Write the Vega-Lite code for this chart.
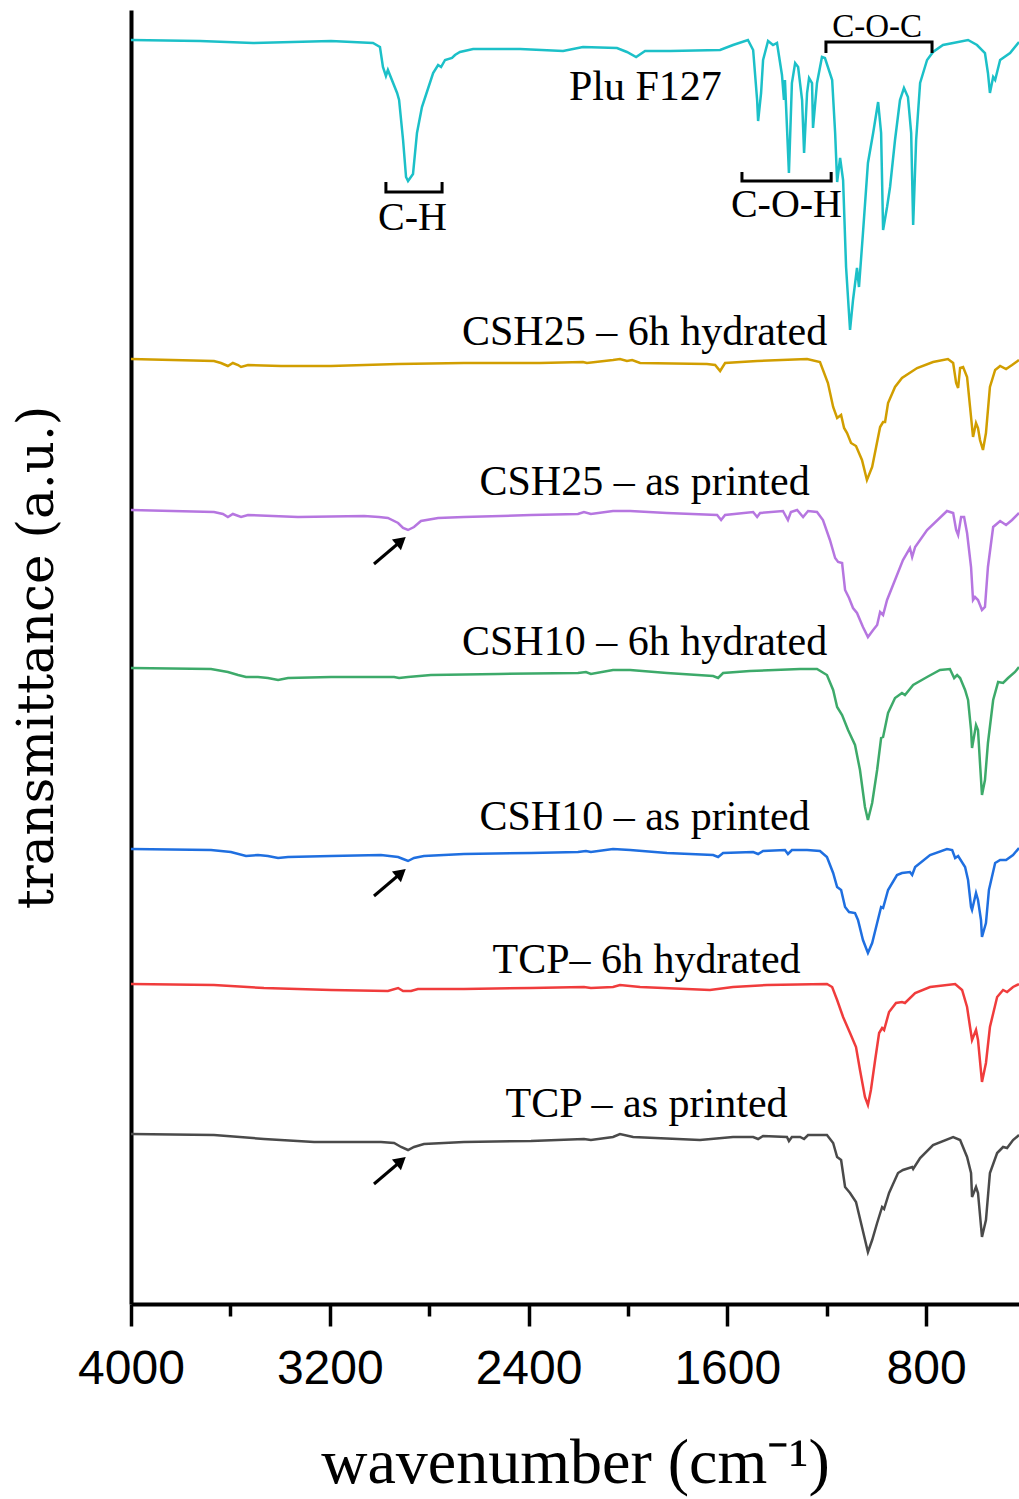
{
"$schema": "https://vega.github.io/schema/vega-lite/v6.json",
"width": 888, "height": 1294,
"autosize": {"type": "none"},
"padding": {"left": 131, "top": 10, "right": 0, "bottom": 195},
"config": {"view": {"stroke": null}, "background": "white"},
"datasets": {
"spectra": [
{"s":"Plu","wn":4000,"t":1264},{"s":"Plu","wn":3722,"t":1263},{"s":"Plu","wn":3509,"t":1261},{"s":"Plu","wn":3195,"t":1263},{"s":"Plu","wn":3026,"t":1261},{"s":"Plu","wn":2998,"t":1257},{"s":"Plu","wn":2986,"t":1237},{"s":"Plu","wn":2974,"t":1228},{"s":"Plu","wn":2966,"t":1234},{"s":"Plu","wn":2929,"t":1211},{"s":"Plu","wn":2921,"t":1204},{"s":"Plu","wn":2905,"t":1164},{"s":"Plu","wn":2893,"t":1127},{"s":"Plu","wn":2885,"t":1123},{"s":"Plu","wn":2865,"t":1130},{"s":"Plu","wn":2849,"t":1171},{"s":"Plu","wn":2829,"t":1197},{"s":"Plu","wn":2813,"t":1209},{"s":"Plu","wn":2784,"t":1231},{"s":"Plu","wn":2764,"t":1239},{"s":"Plu","wn":2752,"t":1237},{"s":"Plu","wn":2736,"t":1244},{"s":"Plu","wn":2708,"t":1246},{"s":"Plu","wn":2696,"t":1249},{"s":"Plu","wn":2676,"t":1252},{"s":"Plu","wn":2623,"t":1255},{"s":"Plu","wn":2434,"t":1255},{"s":"Plu","wn":2261,"t":1253},{"s":"Plu","wn":2181,"t":1257},{"s":"Plu","wn":2044,"t":1256},{"s":"Plu","wn":2004,"t":1252},{"s":"Plu","wn":1967,"t":1247},{"s":"Plu","wn":1931,"t":1253},{"s":"Plu","wn":1830,"t":1253},{"s":"Plu","wn":1629,"t":1254},{"s":"Plu","wn":1577,"t":1259},{"s":"Plu","wn":1517,"t":1264},{"s":"Plu","wn":1496,"t":1254},{"s":"Plu","wn":1480,"t":1204},{"s":"Plu","wn":1476,"t":1183},{"s":"Plu","wn":1464,"t":1211},{"s":"Plu","wn":1456,"t":1244},{"s":"Plu","wn":1436,"t":1263},{"s":"Plu","wn":1416,"t":1259},{"s":"Plu","wn":1400,"t":1261},{"s":"Plu","wn":1380,"t":1229},{"s":"Plu","wn":1372,"t":1204},{"s":"Plu","wn":1368,"t":1224},{"s":"Plu","wn":1352,"t":1131},{"s":"Plu","wn":1340,"t":1221},{"s":"Plu","wn":1327,"t":1241},{"s":"Plu","wn":1315,"t":1237},{"s":"Plu","wn":1299,"t":1204},{"s":"Plu","wn":1291,"t":1151},{"s":"Plu","wn":1279,"t":1211},{"s":"Plu","wn":1271,"t":1226},{"s":"Plu","wn":1259,"t":1221},{"s":"Plu","wn":1255,"t":1176},{"s":"Plu","wn":1239,"t":1221},{"s":"Plu","wn":1219,"t":1247},{"s":"Plu","wn":1207,"t":1246},{"s":"Plu","wn":1178,"t":1224},{"s":"Plu","wn":1166,"t":1171},{"s":"Plu","wn":1158,"t":1122},{"s":"Plu","wn":1146,"t":1146},{"s":"Plu","wn":1134,"t":1124},{"s":"Plu","wn":1122,"t":1037},{"s":"Plu","wn":1106,"t":974},{"s":"Plu","wn":1094,"t":1004},{"s":"Plu","wn":1078,"t":1036},{"s":"Plu","wn":1070,"t":1017},{"s":"Plu","wn":1054,"t":1071},{"s":"Plu","wn":1034,"t":1141},{"s":"Plu","wn":1013,"t":1171},{"s":"Plu","wn":993,"t":1202},{"s":"Plu","wn":981,"t":1171},{"s":"Plu","wn":973,"t":1074},{"s":"Plu","wn":957,"t":1097},{"s":"Plu","wn":945,"t":1117},{"s":"Plu","wn":925,"t":1164},{"s":"Plu","wn":905,"t":1204},{"s":"Plu","wn":889,"t":1216},{"s":"Plu","wn":873,"t":1207},{"s":"Plu","wn":860,"t":1171},{"s":"Plu","wn":852,"t":1079},{"s":"Plu","wn":840,"t":1164},{"s":"Plu","wn":824,"t":1221},{"s":"Plu","wn":796,"t":1244},{"s":"Plu","wn":772,"t":1252},{"s":"Plu","wn":732,"t":1259},{"s":"Plu","wn":691,"t":1261},{"s":"Plu","wn":631,"t":1264},{"s":"Plu","wn":595,"t":1259},{"s":"Plu","wn":563,"t":1251},{"s":"Plu","wn":551,"t":1231},{"s":"Plu","wn":543,"t":1211},{"s":"Plu","wn":530,"t":1227},{"s":"Plu","wn":522,"t":1224},{"s":"Plu","wn":502,"t":1244},{"s":"Plu","wn":462,"t":1251},{"s":"Plu","wn":426,"t":1262},

{"s":"C25h","wn":4000,"t":945},{"s":"C25h","wn":3666,"t":943},{"s":"C25h","wn":3638,"t":941},{"s":"C25h","wn":3610,"t":938},{"s":"C25h","wn":3590,"t":941},{"s":"C25h","wn":3569,"t":939},{"s":"C25h","wn":3557,"t":937},{"s":"C25h","wn":3529,"t":939},{"s":"C25h","wn":3396,"t":938},{"s":"C25h","wn":3195,"t":938},{"s":"C25h","wn":2925,"t":940},{"s":"C25h","wn":2660,"t":941},{"s":"C25h","wn":2354,"t":941},{"s":"C25h","wn":2181,"t":942},{"s":"C25h","wn":2165,"t":941},{"s":"C25h","wn":2060,"t":944},{"s":"C25h","wn":2032,"t":945},{"s":"C25h","wn":2004,"t":943},{"s":"C25h","wn":1983,"t":944},{"s":"C25h","wn":1951,"t":941},{"s":"C25h","wn":1682,"t":940},{"s":"C25h","wn":1649,"t":939},{"s":"C25h","wn":1629,"t":933},{"s":"C25h","wn":1609,"t":941},{"s":"C25h","wn":1480,"t":943},{"s":"C25h","wn":1279,"t":945},{"s":"C25h","wn":1227,"t":942},{"s":"C25h","wn":1195,"t":921},{"s":"C25h","wn":1174,"t":897},{"s":"C25h","wn":1158,"t":886},{"s":"C25h","wn":1142,"t":889},{"s":"C25h","wn":1130,"t":876},{"s":"C25h","wn":1118,"t":871},{"s":"C25h","wn":1102,"t":861},{"s":"C25h","wn":1082,"t":858},{"s":"C25h","wn":1058,"t":844},{"s":"C25h","wn":1038,"t":824},{"s":"C25h","wn":1017,"t":837},{"s":"C25h","wn":1001,"t":857},{"s":"C25h","wn":985,"t":877},{"s":"C25h","wn":973,"t":882},{"s":"C25h","wn":965,"t":882},{"s":"C25h","wn":953,"t":901},{"s":"C25h","wn":925,"t":917},{"s":"C25h","wn":897,"t":926},{"s":"C25h","wn":836,"t":936},{"s":"C25h","wn":772,"t":942},{"s":"C25h","wn":712,"t":945},{"s":"C25h","wn":691,"t":941},{"s":"C25h","wn":679,"t":921},{"s":"C25h","wn":671,"t":916},{"s":"C25h","wn":663,"t":936},{"s":"C25h","wn":651,"t":937},{"s":"C25h","wn":635,"t":927},{"s":"C25h","wn":623,"t":897},{"s":"C25h","wn":611,"t":867},{"s":"C25h","wn":599,"t":881},{"s":"C25h","wn":591,"t":876},{"s":"C25h","wn":583,"t":864},{"s":"C25h","wn":571,"t":854},{"s":"C25h","wn":559,"t":871},{"s":"C25h","wn":543,"t":917},{"s":"C25h","wn":522,"t":934},{"s":"C25h","wn":502,"t":938},{"s":"C25h","wn":478,"t":935},{"s":"C25h","wn":454,"t":939},{"s":"C25h","wn":426,"t":944},

{"s":"C25p","wn":4000,"t":794},{"s":"C25p","wn":3666,"t":792},{"s":"C25p","wn":3630,"t":790},{"s":"C25p","wn":3610,"t":787},{"s":"C25p","wn":3590,"t":790},{"s":"C25p","wn":3557,"t":787},{"s":"C25p","wn":3529,"t":789},{"s":"C25p","wn":3328,"t":787},{"s":"C25p","wn":3062,"t":788},{"s":"C25p","wn":3002,"t":787},{"s":"C25p","wn":2966,"t":786},{"s":"C25p","wn":2925,"t":781},{"s":"C25p","wn":2905,"t":776},{"s":"C25p","wn":2885,"t":774},{"s":"C25p","wn":2861,"t":777},{"s":"C25p","wn":2833,"t":783},{"s":"C25p","wn":2764,"t":786},{"s":"C25p","wn":2660,"t":787},{"s":"C25p","wn":2390,"t":789},{"s":"C25p","wn":2201,"t":790},{"s":"C25p","wn":2177,"t":792},{"s":"C25p","wn":2149,"t":790},{"s":"C25p","wn":2060,"t":793},{"s":"C25p","wn":1991,"t":793},{"s":"C25p","wn":1843,"t":791},{"s":"C25p","wn":1641,"t":789},{"s":"C25p","wn":1625,"t":784},{"s":"C25p","wn":1609,"t":789},{"s":"C25p","wn":1496,"t":792},{"s":"C25p","wn":1480,"t":787},{"s":"C25p","wn":1468,"t":791},{"s":"C25p","wn":1376,"t":793},{"s":"C25p","wn":1356,"t":784},{"s":"C25p","wn":1344,"t":792},{"s":"C25p","wn":1319,"t":794},{"s":"C25p","wn":1295,"t":787},{"s":"C25p","wn":1275,"t":793},{"s":"C25p","wn":1239,"t":792},{"s":"C25p","wn":1215,"t":784},{"s":"C25p","wn":1187,"t":764},{"s":"C25p","wn":1166,"t":746},{"s":"C25p","wn":1154,"t":742},{"s":"C25p","wn":1138,"t":741},{"s":"C25p","wn":1126,"t":714},{"s":"C25p","wn":1110,"t":706},{"s":"C25p","wn":1094,"t":696},{"s":"C25p","wn":1078,"t":691},{"s":"C25p","wn":1054,"t":677},{"s":"C25p","wn":1034,"t":667},{"s":"C25p","wn":1013,"t":674},{"s":"C25p","wn":997,"t":679},{"s":"C25p","wn":985,"t":692},{"s":"C25p","wn":973,"t":689},{"s":"C25p","wn":957,"t":704},{"s":"C25p","wn":925,"t":724},{"s":"C25p","wn":893,"t":744},{"s":"C25p","wn":865,"t":756},{"s":"C25p","wn":856,"t":747},{"s":"C25p","wn":844,"t":757},{"s":"C25p","wn":796,"t":774},{"s":"C25p","wn":716,"t":793},{"s":"C25p","wn":691,"t":791},{"s":"C25p","wn":679,"t":774},{"s":"C25p","wn":671,"t":769},{"s":"C25p","wn":659,"t":787},{"s":"C25p","wn":647,"t":787},{"s":"C25p","wn":635,"t":771},{"s":"C25p","wn":619,"t":737},{"s":"C25p","wn":611,"t":704},{"s":"C25p","wn":603,"t":707},{"s":"C25p","wn":591,"t":704},{"s":"C25p","wn":575,"t":694},{"s":"C25p","wn":563,"t":697},{"s":"C25p","wn":551,"t":737},{"s":"C25p","wn":530,"t":777},{"s":"C25p","wn":502,"t":783},{"s":"C25p","wn":478,"t":779},{"s":"C25p","wn":454,"t":784},{"s":"C25p","wn":426,"t":791},

{"s":"C10h","wn":4000,"t":636},{"s":"C10h","wn":3678,"t":635},{"s":"C10h","wn":3610,"t":632},{"s":"C10h","wn":3569,"t":629},{"s":"C10h","wn":3537,"t":627},{"s":"C10h","wn":3489,"t":627},{"s":"C10h","wn":3449,"t":626},{"s":"C10h","wn":3408,"t":624},{"s":"C10h","wn":3368,"t":626},{"s":"C10h","wn":3195,"t":627},{"s":"C10h","wn":2941,"t":627},{"s":"C10h","wn":2921,"t":626},{"s":"C10h","wn":2885,"t":627},{"s":"C10h","wn":2793,"t":629},{"s":"C10h","wn":2523,"t":630},{"s":"C10h","wn":2201,"t":631},{"s":"C10h","wn":2169,"t":632},{"s":"C10h","wn":2149,"t":630},{"s":"C10h","wn":2060,"t":634},{"s":"C10h","wn":1991,"t":634},{"s":"C10h","wn":1843,"t":631},{"s":"C10h","wn":1657,"t":628},{"s":"C10h","wn":1637,"t":626},{"s":"C10h","wn":1617,"t":631},{"s":"C10h","wn":1509,"t":633},{"s":"C10h","wn":1307,"t":635},{"s":"C10h","wn":1239,"t":635},{"s":"C10h","wn":1199,"t":629},{"s":"C10h","wn":1174,"t":614},{"s":"C10h","wn":1158,"t":597},{"s":"C10h","wn":1138,"t":589},{"s":"C10h","wn":1114,"t":574},{"s":"C10h","wn":1086,"t":559},{"s":"C10h","wn":1066,"t":534},{"s":"C10h","wn":1046,"t":497},{"s":"C10h","wn":1034,"t":484},{"s":"C10h","wn":1017,"t":501},{"s":"C10h","wn":997,"t":534},{"s":"C10h","wn":981,"t":566},{"s":"C10h","wn":973,"t":567},{"s":"C10h","wn":953,"t":591},{"s":"C10h","wn":925,"t":606},{"s":"C10h","wn":897,"t":611},{"s":"C10h","wn":885,"t":609},{"s":"C10h","wn":852,"t":619},{"s":"C10h","wn":796,"t":627},{"s":"C10h","wn":744,"t":634},{"s":"C10h","wn":704,"t":635},{"s":"C10h","wn":687,"t":626},{"s":"C10h","wn":675,"t":629},{"s":"C10h","wn":663,"t":626},{"s":"C10h","wn":643,"t":614},{"s":"C10h","wn":631,"t":604},{"s":"C10h","wn":619,"t":574},{"s":"C10h","wn":615,"t":556},{"s":"C10h","wn":599,"t":579},{"s":"C10h","wn":591,"t":574},{"s":"C10h","wn":583,"t":541},{"s":"C10h","wn":575,"t":509},{"s":"C10h","wn":563,"t":524},{"s":"C10h","wn":551,"t":561},{"s":"C10h","wn":530,"t":604},{"s":"C10h","wn":510,"t":622},{"s":"C10h","wn":490,"t":621},{"s":"C10h","wn":470,"t":626},{"s":"C10h","wn":442,"t":632},{"s":"C10h","wn":426,"t":637},

{"s":"C10p","wn":4000,"t":455},{"s":"C10p","wn":3678,"t":454},{"s":"C10p","wn":3598,"t":452},{"s":"C10p","wn":3537,"t":448},{"s":"C10p","wn":3489,"t":449},{"s":"C10p","wn":3449,"t":448},{"s":"C10p","wn":3408,"t":446},{"s":"C10p","wn":3368,"t":447},{"s":"C10p","wn":3195,"t":448},{"s":"C10p","wn":2994,"t":449},{"s":"C10p","wn":2925,"t":447},{"s":"C10p","wn":2905,"t":445},{"s":"C10p","wn":2885,"t":443},{"s":"C10p","wn":2861,"t":446},{"s":"C10p","wn":2821,"t":448},{"s":"C10p","wn":2660,"t":450},{"s":"C10p","wn":2390,"t":451},{"s":"C10p","wn":2201,"t":452},{"s":"C10p","wn":2169,"t":453},{"s":"C10p","wn":2149,"t":452},{"s":"C10p","wn":2060,"t":455},{"s":"C10p","wn":1991,"t":454},{"s":"C10p","wn":1843,"t":451},{"s":"C10p","wn":1657,"t":449},{"s":"C10p","wn":1637,"t":447},{"s":"C10p","wn":1617,"t":451},{"s":"C10p","wn":1496,"t":452},{"s":"C10p","wn":1476,"t":450},{"s":"C10p","wn":1456,"t":453},{"s":"C10p","wn":1368,"t":454},{"s":"C10p","wn":1356,"t":450},{"s":"C10p","wn":1340,"t":454},{"s":"C10p","wn":1279,"t":454},{"s":"C10p","wn":1227,"t":453},{"s":"C10p","wn":1199,"t":447},{"s":"C10p","wn":1174,"t":431},{"s":"C10p","wn":1158,"t":417},{"s":"C10p","wn":1142,"t":414},{"s":"C10p","wn":1126,"t":397},{"s":"C10p","wn":1110,"t":392},{"s":"C10p","wn":1086,"t":391},{"s":"C10p","wn":1074,"t":384},{"s":"C10p","wn":1054,"t":364},{"s":"C10p","wn":1034,"t":351},{"s":"C10p","wn":1017,"t":361},{"s":"C10p","wn":997,"t":381},{"s":"C10p","wn":981,"t":397},{"s":"C10p","wn":973,"t":396},{"s":"C10p","wn":953,"t":414},{"s":"C10p","wn":917,"t":429},{"s":"C10p","wn":897,"t":431},{"s":"C10p","wn":865,"t":432},{"s":"C10p","wn":856,"t":429},{"s":"C10p","wn":844,"t":437},{"s":"C10p","wn":784,"t":449},{"s":"C10p","wn":716,"t":455},{"s":"C10p","wn":695,"t":454},{"s":"C10p","wn":683,"t":446},{"s":"C10p","wn":671,"t":448},{"s":"C10p","wn":643,"t":437},{"s":"C10p","wn":631,"t":424},{"s":"C10p","wn":619,"t":397},{"s":"C10p","wn":615,"t":394},{"s":"C10p","wn":599,"t":411},{"s":"C10p","wn":591,"t":404},{"s":"C10p","wn":579,"t":384},{"s":"C10p","wn":575,"t":367},{"s":"C10p","wn":559,"t":381},{"s":"C10p","wn":547,"t":414},{"s":"C10p","wn":522,"t":441},{"s":"C10p","wn":502,"t":444},{"s":"C10p","wn":478,"t":444},{"s":"C10p","wn":450,"t":449},{"s":"C10p","wn":426,"t":456},

{"s":"TCPh","wn":4000,"t":320},{"s":"TCPh","wn":3666,"t":319},{"s":"TCPh","wn":3465,"t":316},{"s":"TCPh","wn":3195,"t":314},{"s":"TCPh","wn":2966,"t":313},{"s":"TCPh","wn":2925,"t":316},{"s":"TCPh","wn":2905,"t":313},{"s":"TCPh","wn":2873,"t":313},{"s":"TCPh","wn":2845,"t":315},{"s":"TCPh","wn":2660,"t":315},{"s":"TCPh","wn":2390,"t":316},{"s":"TCPh","wn":2177,"t":317},{"s":"TCPh","wn":2149,"t":316},{"s":"TCPh","wn":2060,"t":317},{"s":"TCPh","wn":2032,"t":319},{"s":"TCPh","wn":1951,"t":317},{"s":"TCPh","wn":1670,"t":314},{"s":"TCPh","wn":1577,"t":317},{"s":"TCPh","wn":1440,"t":319},{"s":"TCPh","wn":1199,"t":320},{"s":"TCPh","wn":1178,"t":317},{"s":"TCPh","wn":1158,"t":304},{"s":"TCPh","wn":1134,"t":287},{"s":"TCPh","wn":1106,"t":271},{"s":"TCPh","wn":1082,"t":257},{"s":"TCPh","wn":1066,"t":234},{"s":"TCPh","wn":1046,"t":207},{"s":"TCPh","wn":1034,"t":199},{"s":"TCPh","wn":1022,"t":214},{"s":"TCPh","wn":1005,"t":244},{"s":"TCPh","wn":989,"t":271},{"s":"TCPh","wn":977,"t":276},{"s":"TCPh","wn":969,"t":274},{"s":"TCPh","wn":949,"t":292},{"s":"TCPh","wn":921,"t":301},{"s":"TCPh","wn":897,"t":302},{"s":"TCPh","wn":885,"t":301},{"s":"TCPh","wn":844,"t":311},{"s":"TCPh","wn":784,"t":317},{"s":"TCPh","wn":683,"t":320},{"s":"TCPh","wn":655,"t":314},{"s":"TCPh","wn":635,"t":297},{"s":"TCPh","wn":623,"t":277},{"s":"TCPh","wn":615,"t":264},{"s":"TCPh","wn":599,"t":274},{"s":"TCPh","wn":591,"t":264},{"s":"TCPh","wn":575,"t":222},{"s":"TCPh","wn":559,"t":241},{"s":"TCPh","wn":543,"t":277},{"s":"TCPh","wn":514,"t":307},{"s":"TCPh","wn":490,"t":314},{"s":"TCPh","wn":474,"t":312},{"s":"TCPh","wn":450,"t":317},{"s":"TCPh","wn":426,"t":320},

{"s":"TCPp","wn":4000,"t":170},{"s":"TCPp","wn":3666,"t":169},{"s":"TCPp","wn":3465,"t":165},{"s":"TCPp","wn":3263,"t":162},{"s":"TCPp","wn":2994,"t":162},{"s":"TCPp","wn":2941,"t":161},{"s":"TCPp","wn":2913,"t":157},{"s":"TCPp","wn":2885,"t":154},{"s":"TCPp","wn":2861,"t":157},{"s":"TCPp","wn":2821,"t":160},{"s":"TCPp","wn":2660,"t":162},{"s":"TCPp","wn":2390,"t":163},{"s":"TCPp","wn":2177,"t":165},{"s":"TCPp","wn":2149,"t":164},{"s":"TCPp","wn":2060,"t":167},{"s":"TCPp","wn":2032,"t":170},{"s":"TCPp","wn":1979,"t":167},{"s":"TCPp","wn":1710,"t":164},{"s":"TCPp","wn":1577,"t":167},{"s":"TCPp","wn":1496,"t":167},{"s":"TCPp","wn":1476,"t":165},{"s":"TCPp","wn":1456,"t":168},{"s":"TCPp","wn":1360,"t":167},{"s":"TCPp","wn":1352,"t":163},{"s":"TCPp","wn":1340,"t":167},{"s":"TCPp","wn":1307,"t":167},{"s":"TCPp","wn":1291,"t":165},{"s":"TCPp","wn":1275,"t":169},{"s":"TCPp","wn":1199,"t":169},{"s":"TCPp","wn":1174,"t":161},{"s":"TCPp","wn":1158,"t":147},{"s":"TCPp","wn":1142,"t":144},{"s":"TCPp","wn":1126,"t":117},{"s":"TCPp","wn":1106,"t":111},{"s":"TCPp","wn":1082,"t":102},{"s":"TCPp","wn":1058,"t":77},{"s":"TCPp","wn":1034,"t":52},{"s":"TCPp","wn":1017,"t":64},{"s":"TCPp","wn":997,"t":81},{"s":"TCPp","wn":977,"t":97},{"s":"TCPp","wn":969,"t":95},{"s":"TCPp","wn":949,"t":111},{"s":"TCPp","wn":913,"t":131},{"s":"TCPp","wn":893,"t":134},{"s":"TCPp","wn":856,"t":137},{"s":"TCPp","wn":852,"t":135},{"s":"TCPp","wn":824,"t":146},{"s":"TCPp","wn":772,"t":159},{"s":"TCPp","wn":691,"t":167},{"s":"TCPp","wn":663,"t":164},{"s":"TCPp","wn":635,"t":147},{"s":"TCPp","wn":619,"t":131},{"s":"TCPp","wn":615,"t":107},{"s":"TCPp","wn":599,"t":117},{"s":"TCPp","wn":591,"t":111},{"s":"TCPp","wn":575,"t":67},{"s":"TCPp","wn":559,"t":84},{"s":"TCPp","wn":543,"t":131},{"s":"TCPp","wn":514,"t":151},{"s":"TCPp","wn":490,"t":157},{"s":"TCPp","wn":474,"t":156},{"s":"TCPp","wn":450,"t":164},{"s":"TCPp","wn":426,"t":169}
],
"labels": [
{"label":"Plu F127","wn":1930,"t":1204},
{"label":"CSH25 – 6h hydrated","wn":1933,"t":959},
{"label":"CSH25 – as printed","wn":1933,"t":809},
{"label":"CSH10 – 6h hydrated","wn":1933,"t":649},
{"label":"CSH10 – as printed","wn":1933,"t":474},
{"label":"TCP– 6h hydrated","wn":1925,"t":331},
{"label":"TCP – as printed","wn":1925,"t":187}
],
"bonds": [
{"label":"C-H","wn":2867,"t":1074},
{"label":"C-O-H","wn":1362,"t":1087}
],
"bonds2": [
{"label":"C-O-C","wn":997,"t":1267}
],
"brackets": [
{"b":"CH","i":0,"wn":2974,"t":1122},{"b":"CH","i":1,"wn":2974,"t":1112},{"b":"CH","i":2,"wn":2748,"t":1112},{"b":"CH","i":3,"wn":2748,"t":1122},
{"b":"COH","i":0,"wn":1541,"t":1132},{"b":"COH","i":1,"wn":1541,"t":1123},{"b":"COH","i":2,"wn":1182,"t":1123},{"b":"COH","i":3,"wn":1182,"t":1132},
{"b":"COC","i":0,"wn":1203,"t":1251},{"b":"COC","i":1,"wn":1203,"t":1262},{"b":"COC","i":2,"wn":776,"t":1262},{"b":"COC","i":3,"wn":776,"t":1251}
],
"arrows": [
{"a":"A1","wn":3022,"t":740},{"a":"A1","wn":2913,"t":763},
{"a":"A2","wn":3022,"t":408},{"a":"A2","wn":2913,"t":431},
{"a":"A3","wn":3022,"t":120},{"a":"A3","wn":2913,"t":143}
],
"heads": [
{"a":"A1","wn":2913,"t":763},{"a":"A2","wn":2913,"t":431},{"a":"A3","wn":2913,"t":143}
]
},
"encoding": {
"x": {"field": "wn", "type": "quantitative",
 "scale": {"domain": [4000, 426], "nice": false, "zero": false},
 "axis": {"title": "wavenumber (cm⁻¹)", "values": [4000,3600,3200,2800,2400,2000,1600,1200,800],
  "format": "d", "labelExpr": "datum.value % 800 === 0 ? datum.label : ''",
  "grid": false, "domainColor": "black", "domainWidth": 4, "tickColor": "black", "tickWidth": 3.5,
  "tickSize": {"condition": {"test": "datum.value % 800 === 0", "value": 22}, "value": 12},
  "labelFont": "Liberation Sans", "labelFontSize": 48, "labelColor": "black", "labelBaseline": "alphabetic", "labelPadding": 57,
  "labelFlush": false, "labelOverlap": false,
  "titleFont": "Liberation Serif", "titleFontSize": 64, "titleFontWeight": "normal", "titleColor": "black",
  "titleBaseline": "alphabetic", "titleY": 178, "titleX": 444, "titleAlign": "center"}},
"y": {"field": "t", "type": "quantitative",
 "scale": {"domain": [0, 1294], "nice": false, "zero": false},
 "axis": {"title": "transmittance (a.u.)", "ticks": false, "labels": false, "grid": false,
  "domainColor": "black", "domainWidth": 4,
  "titleFont": "DejaVu Serif", "titleFontSize": 50, "titleFontWeight": "normal", "titleColor": "black",
  "titleAngle": -90, "titleBaseline": "alphabetic", "titleAlign": "center", "titleX": -79, "titleY": 647}}
},
"layer": [
{"data": {"name": "spectra"}, "mark": {"type": "line", "strokeWidth": 2.5, "clip": true},
 "encoding": {"color": {"field": "s", "type": "nominal", "legend": null,
  "scale": {"domain": ["Plu","C25h","C25p","C10h","C10p","TCPh","TCPp"],
   "range": ["#1CC0C8","#D19E00","#B676E0","#3DAA6A","#1F6FE0","#F03C3C","#4A4A4A"]}}}},
{"data": {"name": "brackets"}, "mark": {"type": "line", "color": "black", "strokeWidth": 3},
 "encoding": {"detail": {"field": "b"}, "order": {"field": "i", "type": "quantitative"}}},
{"data": {"name": "arrows"}, "mark": {"type": "line", "color": "black", "strokeWidth": 3},
 "encoding": {"detail": {"field": "a"}}},
{"data": {"name": "heads"}, "mark": {"type": "point", "shape": "triangle-up", "filled": true, "color": "black", "opacity": 1, "size": 196, "angle": 50}},
{"data": {"name": "labels"}, "mark": {"type": "text", "font": "Liberation Serif", "fontSize": 42, "color": "black", "align": "center", "baseline": "alphabetic"},
 "encoding": {"text": {"field": "label"}}},
{"data": {"name": "bonds"}, "mark": {"type": "text", "font": "Liberation Serif", "fontSize": 40, "color": "black", "align": "center", "baseline": "alphabetic"},
 "encoding": {"text": {"field": "label"}}},
{"data": {"name": "bonds2"}, "mark": {"type": "text", "font": "Liberation Serif", "fontSize": 33, "color": "black", "align": "center", "baseline": "alphabetic"},
 "encoding": {"text": {"field": "label"}}},
{"data": {"values": [{}]}, "mark": {"type": "rule", "color": "black", "strokeWidth": 3.5},
 "encoding": {"y": {"datum": 1293, "type": "quantitative"}, "x": null}}
]
}
